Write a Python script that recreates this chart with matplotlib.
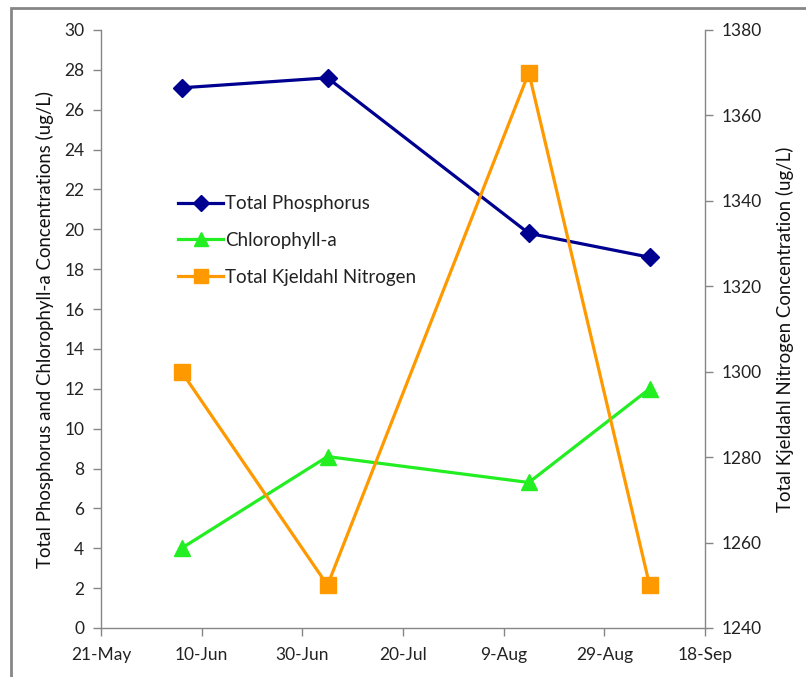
import datetime as dt
import matplotlib
matplotlib.use("Agg")
import matplotlib.pyplot as plt
from matplotlib.patches import Rectangle

plt.rcParams['font.family'] = ['Lato', 'DejaVu Sans']

# Sampling dates and measured concentrations
sample_dates = ["2011-06-06", "2011-07-05", "2011-08-14", "2011-09-07"]
total_phosphorus = [27.1, 27.6, 19.8, 18.6]
chlorophyll_a = [4.0, 8.6, 7.3, 12.0]
tkn = [1300, 1250, 1370, 1250]

tick_dates = ["2011-05-21", "2011-06-10", "2011-06-30", "2011-07-20",
              "2011-08-09", "2011-08-29", "2011-09-18"]
tick_labels = ["21-May", "10-Jun", "30-Jun", "20-Jul", "9-Aug", "29-Aug", "18-Sep"]

to_date = lambda s: dt.datetime.strptime(s, "%Y-%m-%d")
dates = [to_date(s) for s in sample_dates]
ticks = [to_date(s) for s in tick_dates]

W, H = 806, 677
fig = plt.figure(figsize=(W / 100, H / 100), dpi=100)

# outer chart border
fig.patches.append(Rectangle((10.5 / W, -0.1), 1.2, 1 - 8 / H + 0.1,
                             transform=fig.transFigure, fill=False,
                             edgecolor="#868686", linewidth=2.0))

ax = fig.add_axes([101 / W, 1 - 628 / H, 604 / W, 598 / H])
ax2 = ax.twinx()

axis_grey = "#868686"
navy = "#000090"
green = "#22EE22"
orange = "#FF9900"

l1, = ax.plot(dates, total_phosphorus, color=navy, lw=2.3, marker="D",
              ms=9, label="Total Phosphorus")
l2, = ax.plot(dates, chlorophyll_a, color=green, lw=2.3, marker="^",
              ms=11, label="Chlorophyll-a")
l3, = ax2.plot(dates, tkn, color=orange, lw=2.3, marker="s",
               ms=11, label="Total Kjeldahl Nitrogen")

ax.set_xlim(ticks[0], ticks[-1])
ax.set_ylim(0, 30)
ax.set_yticks(range(0, 31, 2))
ax2.set_ylim(1240, 1380)
ax2.set_yticks(range(1240, 1381, 20))
ax.set_xticks(ticks)
ax.set_xticklabels(tick_labels)

for a in (ax, ax2):
    a.set_facecolor("none")
    a.spines["top"].set_visible(False)
    for s in a.spines.values():
        s.set_color(axis_grey)
        s.set_linewidth(1.0)
    a.tick_params(colors=axis_grey, labelcolor="#222222", labelsize=12.5,
                  length=6, width=1.0, direction="out")
ax.spines["right"].set_visible(False)
ax2.spines["left"].set_visible(False)
ax2.spines["bottom"].set_visible(False)
ax.tick_params(axis="x", pad=8)
ax.tick_params(axis="y", pad=6)
ax2.tick_params(axis="y", pad=6)

ax.set_ylabel("Total Phosphorus and Chlorophyll-a Concentrations (ug/L)",
              fontsize=13.4, color="#111111", labelpad=7)
ax2.set_ylabel("Total Kjeldahl Nitrogen Concentration (ug/L)",
               fontsize=13.4, color="#111111", labelpad=10)

leg = ax.legend(handles=[l1, l2, l3], loc="upper left",
                bbox_to_anchor=(0.1, 0.752), frameon=False, fontsize=13.5,
                handlelength=2.4, handletextpad=0.1, labelspacing=1.05,
                markerscale=0.9)
for t in leg.get_texts():
    t.set_color("#222222")

fig.savefig("out.png", dpi=100)
